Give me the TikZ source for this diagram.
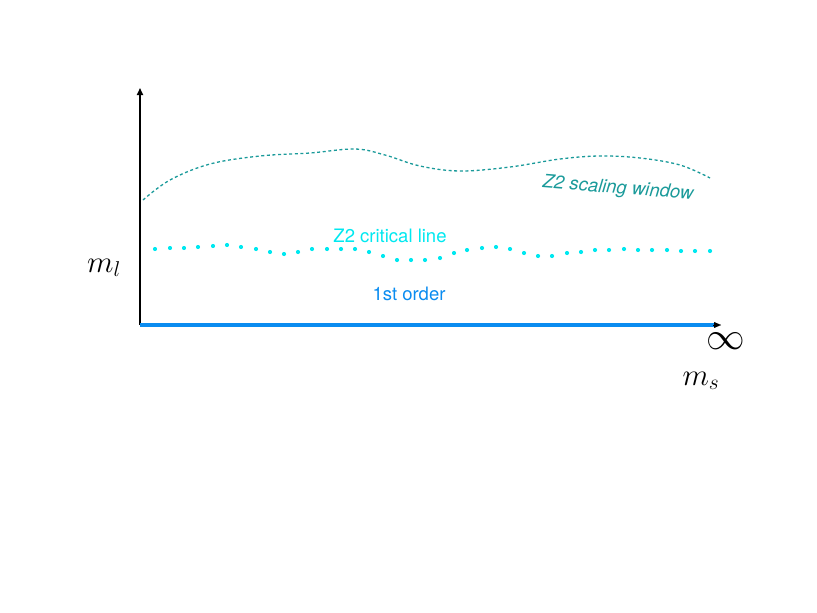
\documentclass[tikz,border=0pt]{standalone}
\usepackage{graphicx}
\usepackage{fontspec}
\setmainfont{TeX Gyre Heros}
\usetikzlibrary{arrows.meta}
\definecolor{teal2}{HTML}{1A9A9A}
\definecolor{cyan2}{HTML}{00E8F0}
\definecolor{blue2}{HTML}{0A8CF0}
\tikzset{
  axis/.style={line width=1.6pt,-{Triangle[length=7pt,width=6pt]}},
  lbl/.style={font=\fontsize{18.5}{22}\selectfont, inner sep=0pt},
  mathlbl/.style={font=\fontsize{24}{28}\selectfont, inner sep=0pt},
  window/.style={teal2, line width=1.3pt, dash pattern=on 3pt off 2.6pt},
  critdot/.style={fill=cyan2, draw=none}
}
\begin{document}
\begin{tikzpicture}[x=1pt,y=-1pt]
\useasboundingbox (0,0) rectangle (817,613);
\coordinate (O) at (140,325);
\coordinate (Ytop) at (140,88);
\coordinate (Xend) at (721,325);
\draw[axis,black] (O) -- (Ytop);
\draw[line width=4pt, blue2] (O) -- (714,325);
\draw[axis,black,line width=0.1pt] (713,325) -- (Xend);
\node[mathlbl] (inf) at (726,341) {\scalebox{1.55}{$\infty$}};
\node[mathlbl] (ms) at (701,381) {\scalebox{1.24}{$m_s$}};
\node[mathlbl] (ml) at (104,268) {\scalebox{1.24}{$m_l$}};
\draw[window] plot[smooth, tension=0.6] coordinates {(143,200) (170,180) (210,164) (260,156) (310,153) (355,149) (385,155) (420,166) (460,171) (510,167) (560,159) (600,156) (640,158) (680,165) (710,178)};
\foreach \x/\y in {155/249,170/248,184/248,198/247,213/246,227/245,241/247,256/249,270/252,284/254,298/252,312/249,327/249,341/249,355/249,369/252,383/256,397/260,411/260,425/260,440/258,454/253,467/250,482/248,496/247,510/249,524/253,538/256,552/256,567/253,581/252,595/250,609/250,624/249,638/250,652/250,667/250,681/251,695/251,710/251}
  \fill[critdot] (\x,\y) circle (2.1);
\node[lbl, text=cyan2] (crit) at (390,236) {Z2 critical line};
\node[lbl, text=blue2] (first) at (409,294) {1st order};
\node[lbl, text=teal2, rotate=-4.5, font=\fontsize{18.5}{22}\selectfont\itshape] (win) at (618,189) {Z2 scaling window};
\end{tikzpicture}
\end{document}
